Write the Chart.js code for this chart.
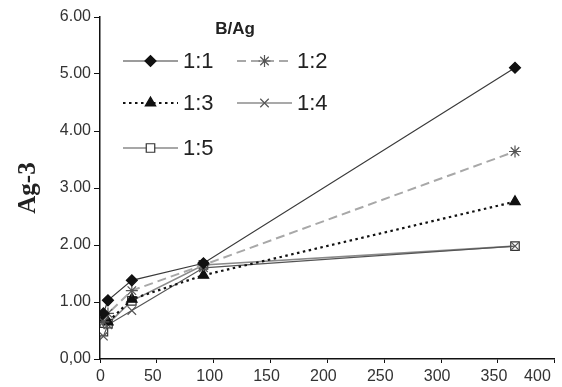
<!DOCTYPE html>
<html>
<head>
<meta charset="utf-8">
<script src="https://cdn.jsdelivr.net/npm/chart.js@4/dist/chart.umd.min.js"></script>
<style>
html,body{margin:0;padding:0;background:#fff;}
#wrap{width:562px;height:387px;position:relative;}
</style>
</head>
<body>
<div id="wrap"><canvas id="c" width="562" height="387"></canvas></div>
<script>
const days = [3, 7, 28, 91, 365];
const seriesNames = ['1:1', '1:2', '1:3', '1:4', '1:5'];
const s11 = [0.80, 1.03, 1.38, 1.68, 5.11];
const s12 = [0.65, 0.80, 1.20, 1.65, 3.64];
const s13 = [0.70, 0.65, 1.05, 1.47, 2.76];
const s14 = [0.40, 0.60, 0.85, 1.60, 1.98];
const s15 = [0.48, 0.62, 1.02, 1.65, 1.98];
const yTicks = [0, 1, 2, 3, 4, 5, 6];
const xTicks = [0, 50, 100, 150, 200, 250, 300, 350, 400];
const legendTitle = 'B/Ag';
const yTitle = 'Ag-3';

const styles = [
  {color:'#3a3a3a', width:1.2, dash:[], point:'rectRot', radius:5.5, fill:'#111', pcolor:'#111'},
  {color:'#a8a8a8', width:2, dash:[9,5], point:'star', radius:6, fill:'#555', pcolor:'#555'},
  {color:'#111', width:2.2, dash:[2.5,3.5], point:'triangle', radius:6, fill:'#111', pcolor:'#111'},
  {color:'#555', width:1.2, dash:[], point:'crossRot', radius:6, fill:'#555', pcolor:'#555'},
  {color:'#8a8a8a', width:1.6, dash:[], point:'rect', radius:6, fill:'#fff', pcolor:'#333'}
];
const allVals = [s11, s12, s13, s14, s15];

const datasets = allVals.map((vals, i) => ({
  label: seriesNames[i],
  data: days.map((d, j) => ({x: d, y: vals[j]})),
  borderColor: styles[i].color,
  borderWidth: styles[i].width,
  borderDash: styles[i].dash,
  pointStyle: styles[i].point,
  pointRadius: styles[i].radius,
  pointBackgroundColor: styles[i].fill,
  pointBorderColor: styles[i].pcolor,
  pointBorderWidth: 1.2,
  tension: 0,
  fill: false
}));

const legendPlugin = {
  id: 'customLegend',
  afterDraw(chart) {
    const ctx = chart.ctx;
    ctx.save();
    ctx.fillStyle = '#222';
    ctx.font = 'bold 17px "Liberation Sans", Arial, sans-serif';
    ctx.textAlign = 'center';
    ctx.textBaseline = 'middle';
    ctx.fillText(legendTitle, 235, 29);
    const pos = [
      {x:123, y:61}, {x:237, y:61},
      {x:123, y:103}, {x:237, y:103},
      {x:123, y:148}
    ];
    chart.data.datasets.forEach((ds, i) => {
      const p = pos[i];
      const st = styles[i];
      ctx.beginPath();
      ctx.setLineDash(st.dash);
      ctx.strokeStyle = st.color;
      ctx.lineWidth = st.width;
      ctx.moveTo(p.x, p.y);
      ctx.lineTo(p.x + 55, p.y);
      ctx.stroke();
      ctx.setLineDash([]);
      ctx.fillStyle = st.fill;
      ctx.strokeStyle = st.pcolor;
      ctx.lineWidth = 1.2;
      Chart.helpers.drawPoint(ctx, {pointStyle: st.point, radius: st.radius, borderWidth: 1.2}, p.x + 27.5, p.y);
      ctx.fillStyle = '#222';
      ctx.font = '22px "Liberation Sans", Arial, sans-serif';
      ctx.textAlign = 'left';
      ctx.textBaseline = 'middle';
      ctx.fillText(ds.label, p.x + 60, p.y + 1);
    });
    ctx.restore();
  }
};

new Chart(document.getElementById('c'), {
  type: 'line',
  data: { datasets },
  options: {
    responsive: false,
    animation: false,
    layout: { padding: { top: 17, right: 5, left: 0, bottom: 0 } },
    plugins: { legend: { display: false }, tooltip: { enabled: false } },
    scales: {
      x: {
        type: 'linear',
        min: 0, max: 400,
        afterBuildTicks(scale) { scale.ticks = xTicks.map(v => ({value: v})); },
        afterFit(scale) { scale.height = 28; scale.paddingRight = 0; scale.paddingLeft = 0; },
        grid: { drawOnChartArea: false, drawTicks: true, tickLength: 4, color: '#111', tickColor: '#111' },
        border: { color: '#111', width: 1.5 },
        ticks: { color: '#333', font: { family: '"Liberation Sans", Arial, sans-serif', size: 16 }, padding: 4, maxRotation: 0, align: 'inner', labelOffset: -4 }
      },
      y: {
        min: 0, max: 6,
        afterBuildTicks(scale) { scale.ticks = yTicks.map(v => ({value: v})); },
        afterFit(scale) { scale.width = 100; scale.paddingTop = 0; scale.paddingBottom = 0; },
        grid: { drawOnChartArea: false, drawTicks: true, tickLength: 6, color: '#111', tickColor: '#111' },
        border: { color: '#111', width: 1.5 },
        ticks: {
          color: '#333',
          font: { family: '"Liberation Sans", Arial, sans-serif', size: 16 },
          padding: 3,
          callback: v => v === 0 ? '0,00' : v.toFixed(2)
        },
        title: {
          display: true, text: yTitle, color: '#222',
          font: { family: '"Liberation Serif", "Times New Roman", serif', size: 25, weight: 'bold' },
          padding: { top: 14, bottom: 0 }
        }
      }
    }
  },
  plugins: [legendPlugin]
});
</script>
</body>
</html>
